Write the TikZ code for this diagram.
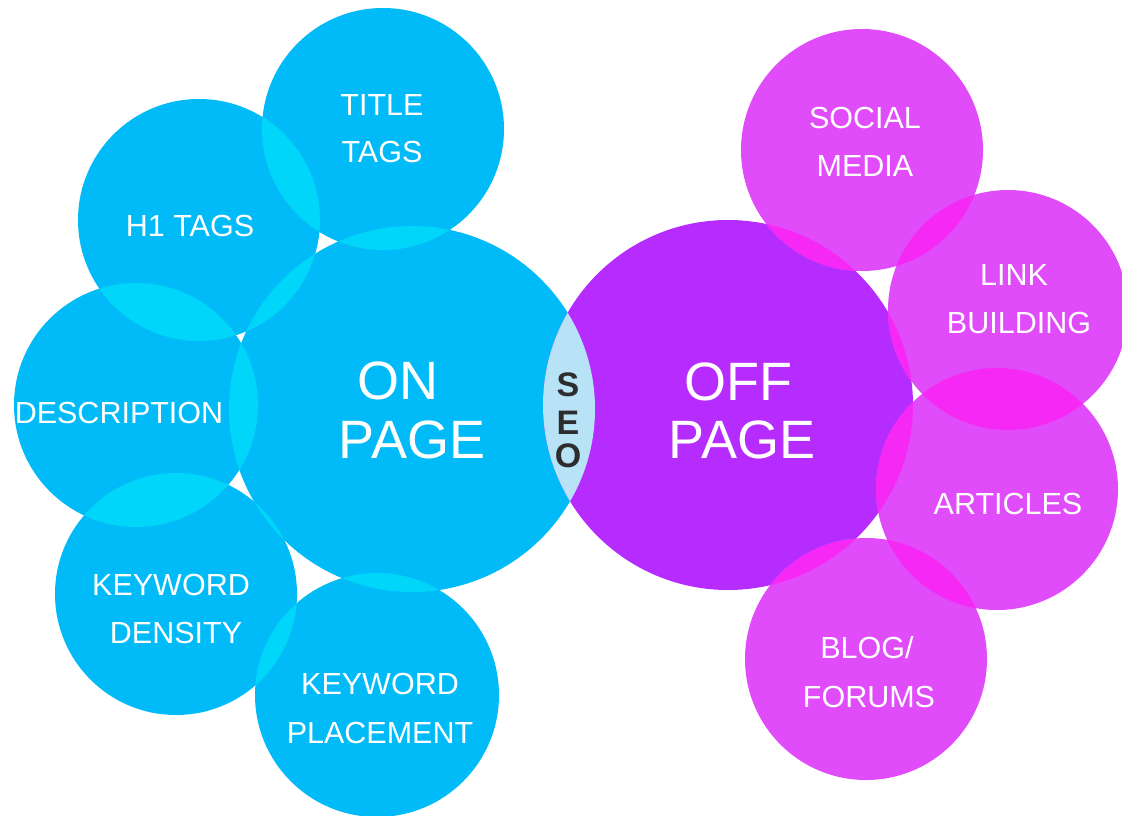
\documentclass[tikz,border=0pt]{standalone}
\usepackage{fontspec}
\setmainfont{Liberation Sans}
\definecolor{blueC}{RGB}{0,187,248}
\definecolor{blueL}{RGB}{0,213,250}
\definecolor{magC}{RGB}{224,76,250}
\definecolor{magL}{RGB}{246,40,246}
\definecolor{purpC}{RGB}{182,44,255}
\definecolor{lensC}{RGB}{184,226,246}
\definecolor{seoC}{RGB}{45,45,45}
\begin{document}
\begin{tikzpicture}[x=1pt,y=-1pt,
  bub/.style={circle,inner sep=0pt,outer sep=0pt,draw=none},
  big/.style={text=white,font=\fontsize{54}{59}\selectfont,inner sep=0pt,anchor=base},
  small/.style={text=white,font=\fontsize{30.5}{40}\selectfont,inner sep=0pt,anchor=base},
  seo/.style={text=seoC,font=\fontsize{34}{40}\selectfont\bfseries,inner sep=0pt,anchor=base}]
\useasboundingbox (0,0) rectangle (1122,815);
% centres
\coordinate (cOn) at (412,409);
\coordinate (cOff) at (728,405);
\coordinate (cTitle) at (383,129);
\coordinate (cH1) at (199,220);
\coordinate (cDesc) at (136,405);
\coordinate (cKD) at (176,594);
\coordinate (cKP) at (377,695);
\coordinate (cSM) at (862,150);
\coordinate (cLB) at (1008,310);
\coordinate (cArt) at (997,489);
\coordinate (cBlog) at (866,659);
% circles
\node[bub,fill=blueC,minimum size=366pt] (on) at (cOn) {};
\node[bub,fill=purpC,minimum size=370pt] (off) at (cOff) {};
\node[bub,fill=blueC,minimum size=242pt] (title) at (cTitle) {};
\node[bub,fill=blueC,minimum size=242pt] (h1) at (cH1) {};
\node[bub,fill=blueC,minimum size=244pt] (desc) at (cDesc) {};
\node[bub,fill=blueC,minimum size=242pt] (kd) at (cKD) {};
\node[bub,fill=blueC,minimum size=244pt] (kp) at (cKP) {};
\node[bub,fill=magC,minimum size=242pt] (sm) at (cSM) {};
\node[bub,fill=magC,minimum size=240pt] (lb) at (cLB) {};
\node[bub,fill=magC,minimum size=242pt] (art) at (cArt) {};
\node[bub,fill=magC,minimum size=242pt] (blog) at (cBlog) {};
% overlaps, blue side
\begin{scope}\clip (cTitle) circle[radius=121pt]; \fill[blueL] (cH1) circle[radius=121pt]; \end{scope}
\begin{scope}\clip (cTitle) circle[radius=121pt]; \fill[blueL] (cOn) circle[radius=183pt]; \end{scope}
\begin{scope}\clip (cH1) circle[radius=121pt]; \fill[blueL] (cOn) circle[radius=183pt]; \end{scope}
\begin{scope}\clip (cH1) circle[radius=121pt]; \fill[blueL] (cDesc) circle[radius=122pt]; \end{scope}
\begin{scope}\clip (cDesc) circle[radius=122pt]; \fill[blueL] (cOn) circle[radius=183pt]; \end{scope}
\begin{scope}\clip (cDesc) circle[radius=122pt]; \fill[blueL] (cKD) circle[radius=121pt]; \end{scope}
\begin{scope}\clip (cKD) circle[radius=121pt]; \fill[blueL] (cOn) circle[radius=183pt]; \end{scope}
\begin{scope}\clip (cKD) circle[radius=121pt]; \fill[blueL] (cKP) circle[radius=122pt]; \end{scope}
\begin{scope}\clip (cKP) circle[radius=122pt]; \fill[blueL] (cOn) circle[radius=183pt]; \end{scope}
% overlaps, magenta side
\begin{scope}\clip (cSM) circle[radius=121pt]; \fill[magL] (cOff) circle[radius=185pt]; \end{scope}
\begin{scope}\clip (cSM) circle[radius=121pt]; \fill[magL] (cLB) circle[radius=120pt]; \end{scope}
\begin{scope}\clip (cLB) circle[radius=120pt]; \fill[magL] (cOff) circle[radius=185pt]; \end{scope}
\begin{scope}\clip (cLB) circle[radius=120pt]; \fill[magL] (cArt) circle[radius=121pt]; \end{scope}
\begin{scope}\clip (cArt) circle[radius=121pt]; \fill[magL] (cOff) circle[radius=185pt]; \end{scope}
\begin{scope}\clip (cArt) circle[radius=121pt]; \fill[magL] (cBlog) circle[radius=121pt]; \end{scope}
\begin{scope}\clip (cBlog) circle[radius=121pt]; \fill[magL] (cOff) circle[radius=185pt]; \end{scope}
% SEO lens
\begin{scope}\clip (cOn) circle[radius=183pt]; \fill[lensC] (cOff) circle[radius=185pt]; \end{scope}
% labels
\node[big] (onA) at (398,399) {ON};
\node[big] (onB) at (412,458) {PAGE};
\node[big] (offA) at (738,400) {OFF};
\node[big] (offB) at (742,458) {PAGE};
\node[seo] (seoS) at (568,396) {S};
\node[seo] (seoE) at (568,434) {E};
\node[seo] (seoO) at (568,467) {O};
\node[small] (tTitleA) at (382,115) {TITLE};
\node[small] (tTitleB) at (382,162) {TAGS};
\node[small] (tH1) at (190,236) {H1 TAGS};
\node[small] (tDesc) at (119,423) {DESCRIPTION};
\node[small] (tKDA) at (171,595) {KEYWORD};
\node[small] (tKDB) at (176,643) {DENSITY};
\node[small] (tKPA) at (380,694) {KEYWORD};
\node[small] (tKPB) at (380,743) {PLACEMENT};
\node[small] (tSMA) at (865,128) {SOCIAL};
\node[small] (tSMB) at (865,176) {MEDIA};
\node[small] (tLBA) at (1014,285) {LINK};
\node[small] (tLBB) at (1019,333) {BUILDING};
\node[small] (tArt) at (1008,514) {ARTICLES};
\node[small] (tBlogA) at (867,658) {BLOG/};
\node[small] (tBlogB) at (869,707) {FORUMS};
\end{tikzpicture}
\end{document}
